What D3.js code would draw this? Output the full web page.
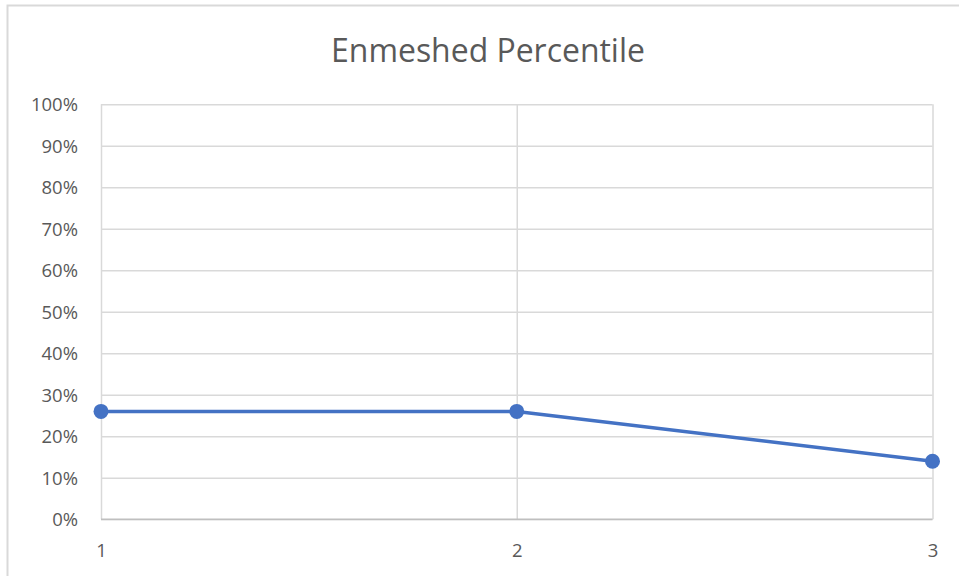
<!DOCTYPE html>
<html><head><meta charset="utf-8">
<script src="https://cdn.jsdelivr.net/npm/d3@7"></script>
<style>html,body{margin:0;padding:0;background:#fff;}svg{display:block;}</style>
</head><body>
<svg id="c" width="959" height="576"></svg>
<script>
const title = "Enmeshed Percentile";
const categories = [1, 2, 3];
const values = [0.26, 0.26, 0.14];
const yTicks = [0,0.1,0.2,0.3,0.4,0.5,0.6,0.7,0.8,0.9,1.0];

const svg = d3.select("#c");
const font = "'Open Sans', 'Noto Sans', sans-serif";
const textCol = "#595959", gridCol = "#d9d9d9";

// chart area border
svg.append("path").attr("d","M7.5,576 V5.5 H959").attr("fill","none").attr("stroke",gridCol).attr("stroke-width",2);

const x = d3.scaleLinear().domain([1,3]).range([101,932.5]);
const y = d3.scaleLinear().domain([0,1]).range([519.3,104.3]);

// horizontal gridlines
const yAxis = d3.axisLeft(y).tickValues(yTicks).tickFormat(d3.format(".0%")).tickSize(-(x.range()[1]-x.range()[0])).tickPadding(23);
const gy = svg.append("g").attr("transform",`translate(${x.range()[0]},0)`).call(yAxis);
gy.select(".domain").remove();
gy.selectAll(".tick line").attr("stroke",gridCol).attr("stroke-width",1.5);
gy.selectAll(".tick text").attr("fill",textCol).style("font-family",font).style("font-size","18.5px").attr("dy","0.35em");

// vertical gridlines
const xAxis = d3.axisBottom(x).tickValues(categories).tickFormat(d3.format("d")).tickSize(-(y.range()[0]-y.range()[1])).tickPadding(25);
const gx = svg.append("g").attr("transform",`translate(0,${y.range()[0]})`).call(xAxis);
gx.select(".domain").remove();
gx.selectAll(".tick line").attr("stroke",gridCol).attr("stroke-width",1.5);
gx.selectAll(".tick text").attr("fill",textCol).style("font-family",font).style("font-size","18.5px");

// baseline axis
svg.append("line").attr("x1",x.range()[0]).attr("x2",x.range()[1]).attr("y1",y(0)).attr("y2",y(0)).attr("stroke","#bfbfbf").attr("stroke-width",1.5);

// line
const data = categories.map((c,i)=>({c, v: values[i]}));
svg.append("path").datum(data)
  .attr("d", d3.line().x(d=>x(d.c)).y(d=>y(d.v)))
  .attr("fill","none").attr("stroke","#4472C4").attr("stroke-width",3.5).attr("stroke-linejoin","round");
svg.selectAll("circle.pt").data(data).join("circle").attr("class","pt")
  .attr("cx",d=>x(d.c)).attr("cy",d=>y(d.v)).attr("r",7.5).attr("fill","#4472C4");

// title
const t = svg.append("text").attr("x",488).attr("y",62).attr("text-anchor","middle")
  .attr("fill",textCol).style("font-family",font).style("font-size","30px").text(title);
const w = t.node().getComputedTextLength();
t.style("font-size", (30*314/w).toFixed(2)+"px");
</script>
</body></html>
